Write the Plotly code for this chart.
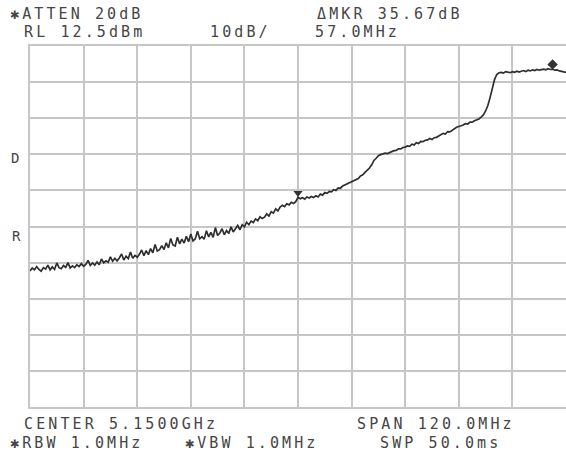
import plotly.graph_objects as go

# ---- data (spectrum analyser trace) ----
start_mhz = 5090.0
step_mhz = 0.5
amplitude_dbm = [
    -49.8, -49.0, -49.5, -48.6, -49.4, -49.9, -48.9, -49.3, -48.2, -49.5,
    -48.7, -49.4, -47.6, -48.9, -49.2, -48.3, -48.8, -47.5, -49.0, -48.4,
    -48.9, -48.1, -48.6, -47.8, -48.5, -48.0, -46.9, -48.3, -47.6, -48.2,
    -47.3, -48.1, -46.5, -47.6, -47.0, -47.4, -45.9, -47.1, -46.3, -47.0,
    -46.2, -45.1, -46.8, -45.7, -46.4, -44.6, -46.3, -45.5, -46.0, -45.2,
    -44.0, -45.6, -44.2, -45.3, -43.6, -44.8, -42.5, -44.3, -43.9, -42.8,
    -43.9, -42.0, -43.4, -40.8, -42.6, -42.9, -40.5, -42.3, -41.0, -42.1,
    -40.2, -41.7, -39.6, -41.5, -40.9, -38.8, -40.9, -40.3, -41.0, -38.7,
    -40.4, -39.1, -40.5, -37.8, -40.0, -39.3, -38.1, -39.8, -38.6, -39.4,
    -37.6, -39.0, -38.1, -37.2, -38.4, -37.0, -37.6, -36.3, -37.0, -36.0,
    -36.4, -35.4, -35.9, -34.8, -35.3, -34.9, -34.0, -34.6, -33.4, -33.8,
    -32.6, -33.2, -32.1, -31.6, -32.0, -31.2, -31.5, -30.8, -31.1, -30.6,
    -29.4, -29.8, -29.5, -29.9, -29.3, -29.6, -29.2, -29.5, -29.0, -29.3,
    -28.5, -28.8, -28.1, -28.3, -27.8, -27.9, -27.3, -27.5, -26.8, -26.9,
    -26.3, -26.0, -25.7, -25.4, -25.3, -24.8, -24.5, -24.2, -23.5, -23.2,
    -22.5, -21.9, -21.3, -20.4, -19.2, -18.6, -17.9, -17.6, -17.4, -17.2,
    -17.3, -17.0, -16.9, -16.5, -16.4, -16.0, -16.0, -15.6, -15.5, -15.2,
    -15.3, -14.7, -14.9, -14.3, -14.5, -13.9, -14.0, -13.6, -13.5, -13.1,
    -13.4, -12.9, -12.8, -12.4, -12.2, -11.7, -11.9, -11.2, -11.3, -10.8,
    -10.4, -10.0, -9.8, -9.7, -9.4, -9.0, -9.1, -8.6, -8.6, -8.2,
    -8.0, -7.7, -7.2, -6.6, -5.5, -4.0, -1.8, 0.5, 3.2, 4.6,
    5.1, 5.2, 5.0, 5.4, 5.3, 5.1, 5.4, 5.2, 5.5, 5.3,
    5.5, 5.7, 5.4, 5.8, 5.6, 5.9, 5.7, 6.0, 5.8, 6.0,
    6.1, 5.9, 6.2, 6.0, 6.1, 5.8, 5.9, 5.6, 5.5, 5.3,
    5.2,
]
frequency_mhz = [start_mhz + i * step_mhz for i in range(len(amplitude_dbm))]

marker_freq_mhz = [5150.0, 5207.0]
marker_amp_dbm = [-28.2, 7.4]
marker_symbols = ["triangle-down", "diamond"]

center_mhz = 5150.0
span_mhz = 120.0
ref_level_dbm = 12.5
db_per_div = 10.0

header_texts = ["✱ATTEN 20dB", "ΔMKR 35.67dB", "RL 12.5dBm", "10dB/", "57.0MHz"]
footer_texts = ["CENTER 5.1500GHz", "SPAN 120.0MHz", "✱RBW 1.0MHz", "✱VBW 1.0MHz", "SWP 50.0ms"]
side_labels = ["D", "R"]

# ---- layout geometry (pixels) ----
W, H = 566, 455
L, R, T, B = 30, 0, 46, 48
PW, PH = W - L - R, H - T - B

def px(xp):
    return (xp - L) / PW

def py(yp):
    return (H - B - yp) / PH

FONT = "DejaVu Sans Mono"
TXT_COLOR = "#454545"
GRID = "#c6c6c6"

def spaced(s, ls):
    return f'<span style="letter-spacing:{ls}px">{s}</span>'

fig = go.Figure()
fig.add_trace(go.Scatter(
    x=frequency_mhz, y=amplitude_dbm, mode="lines",
    line=dict(color="#2e2e2e", width=1.7), hoverinfo="skip", showlegend=False,
))
fig.add_trace(go.Scatter(
    x=marker_freq_mhz, y=marker_amp_dbm, mode="markers",
    marker=dict(symbol=marker_symbols, size=8, color="#333333"),
    hoverinfo="skip", showlegend=False,
))

x0 = center_mhz - span_mhz / 2
x1 = center_mhz + span_mhz / 2
y1 = ref_level_dbm
y0 = ref_level_dbm - 10 * db_per_div

fig.update_xaxes(range=[x0, x1], dtick=span_mhz / 10, tick0=x0, showgrid=True,
                 gridcolor=GRID, gridwidth=1.8, showticklabels=False, ticks="",
                 zeroline=False, showline=True, mirror=True, linecolor=GRID, linewidth=1.8)
fig.update_yaxes(range=[y0, y1], dtick=db_per_div, tick0=y1, showgrid=True,
                 gridcolor=GRID, gridwidth=1.8, showticklabels=False, ticks="",
                 zeroline=False, showline=True, mirror=False, linecolor=GRID, linewidth=1.8)

ann = []
def add(text, xp, yp, size=15, ls=3.1):
    ann.append(dict(text=spaced(text, ls), x=px(xp), y=py(yp), xref="paper", yref="paper",
                    xanchor="left", yanchor="middle", showarrow=False,
                    font=dict(family=FONT, size=size, color=TXT_COLOR)))

add(header_texts[0], 8, 14)
add(header_texts[1], 315, 14)
add(header_texts[2], 22, 32)
add(header_texts[3], 208, 32)
add(header_texts[4], 313, 32)
add(footer_texts[0], 22, 424)
add(footer_texts[1], 355, 424)
add(footer_texts[2], 8, 443)
add(footer_texts[3], 183, 443)
add(footer_texts[4], 378, 443)
add(side_labels[0], 9, 158, size=14, ls=0)
add(side_labels[1], 10, 236, size=14, ls=0)

fig.update_layout(
    width=W, height=H, margin=dict(l=L, r=R, t=T, b=B),
    paper_bgcolor="white", plot_bgcolor="white", annotations=ann,
)

fig.write_html("out.html")
